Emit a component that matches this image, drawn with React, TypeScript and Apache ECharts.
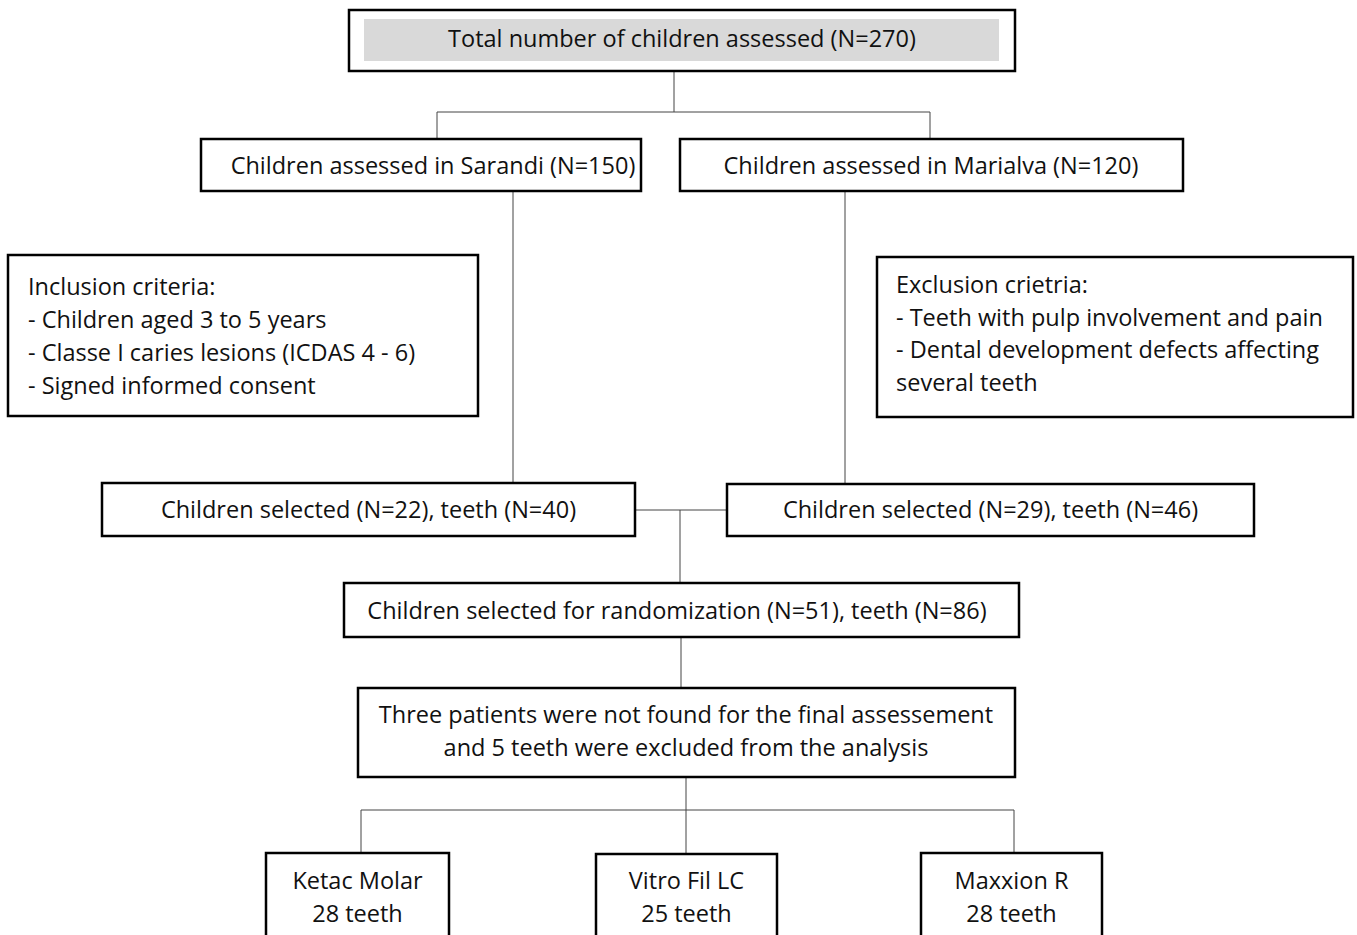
import React, { useEffect, useRef } from "react";
import * as echarts from "echarts";

// ---- content ----
const titleLabel = ["Total number of children assessed (N=270)"];
const siteLabels = ["Children assessed in Sarandi (N=150)", "Children assessed in Marialva (N=120)"];
const inclusionLines = [
  "Inclusion criteria:",
  "- Children aged 3 to 5 years",
  "- Classe I caries lesions (ICDAS 4 - 6)",
  "- Signed informed consent",
];
const exclusionLines = [
  "Exclusion crietria:",
  "- Teeth with pulp involvement and pain",
  "- Dental development defects affecting",
  "several teeth",
];
const selectedLabels = ["Children selected (N=22), teeth (N=40)", "Children selected (N=29), teeth (N=46)"];
const randomLabel = ["Children selected for randomization (N=51), teeth (N=86)"];
const lossLines = [
  "Three patients were not found for the final assessement",
  "and 5 teeth were excluded from the analysis",
];
const groupNames = ["Ketac Molar", "Vitro Fil LC", "Maxxion R"];
const groupTeeth = [28, 25, 28];

// ---- layout ----
const FONT = "23.5px 'Open Sans', sans-serif";
const BOX_LW = 2.5;
const LINE_COLOR = "#444";

type Box = { x: number; y: number; w: number; h: number; tx?: number };

const boxRect = (b: Box) => ({
  type: "rect",
  shape: { x: b.x, y: b.y, width: b.w, height: b.h },
  style: { fill: "#fff", stroke: "#000", lineWidth: BOX_LW },
});

const centerText = (text: string, x: number, y: number) => ({
  type: "text",
  style: { text, x, y, font: FONT, fill: "#111", textAlign: "center", textVerticalAlign: "middle" },
});
const leftText = (text: string, x: number, y: number) => ({
  type: "text",
  style: { text, x, y, font: FONT, fill: "#111", textAlign: "left", textVerticalAlign: "middle" },
});
const seg = (x1: number, y1: number, x2: number, y2: number) => ({
  type: "line",
  shape: { x1, y1, x2, y2 },
  style: { stroke: LINE_COLOR, lineWidth: 1 },
});

export default function App() {
  const ref = useRef<HTMLDivElement>(null);
  useEffect(() => {
    document.body.style.margin = "0";
    const chart = echarts.init(ref.current!, null, { renderer: "svg" });
    const els: any[] = [];

    // connectors
    els.push(seg(674, 71, 674, 112), seg(437, 112, 930, 112), seg(437, 112, 437, 139), seg(930, 112, 930, 139));
    els.push(seg(513, 191, 513, 484), seg(845, 191, 845, 484));
    els.push(seg(635, 510, 727, 510), seg(680, 510, 680, 583));
    els.push(seg(681, 637, 681, 688));
    els.push(seg(686, 777, 686, 853), seg(361, 810, 1014, 810), seg(361, 810, 361, 853), seg(1014, 810, 1014, 853));

    // title
    els.push(boxRect({ x: 349, y: 10, w: 666, h: 61 }));
    els.push({ type: "rect", shape: { x: 364, y: 19, width: 635, height: 42 }, style: { fill: "#d9d9d9" } });
    els.push(centerText(titleLabel[0], 682, 38));

    // sites
    const sites: Box[] = [
      { x: 201, y: 139, w: 440, h: 52, tx: 433 },
      { x: 680, y: 139, w: 503, h: 52, tx: 931 },
    ];
    sites.forEach((b, i) => {
      els.push(boxRect(b));
      els.push(centerText(siteLabels[i], b.tx!, 165));
    });

    // criteria
    els.push(boxRect({ x: 8, y: 255, w: 470, h: 161 }));
    inclusionLines.forEach((t, i) => els.push(leftText(t, 28, 286 + i * 33)));
    els.push(boxRect({ x: 877, y: 257, w: 476, h: 160 }));
    exclusionLines.forEach((t, i) => els.push(leftText(t, 896, 284 + i * 32.5)));

    // selected
    const sel: Box[] = [
      { x: 102, y: 483, w: 533, h: 53 },
      { x: 727, y: 484, w: 527, h: 52 },
    ];
    sel.forEach((b, i) => {
      els.push(boxRect(b));
      els.push(centerText(selectedLabels[i], b.x + b.w / 2, 509));
    });

    // randomization
    els.push(boxRect({ x: 344, y: 583, w: 675, h: 54 }));
    els.push(centerText(randomLabel[0], 677, 610));

    // losses
    els.push(boxRect({ x: 358, y: 688, w: 657, h: 89 }));
    lossLines.forEach((t, i) => els.push(centerText(t, 686, 714 + i * 33)));

    // groups
    const groups: Box[] = [
      { x: 266, y: 853, w: 183, h: 120 },
      { x: 596, y: 854, w: 181, h: 120 },
      { x: 921, y: 853, w: 181, h: 120 },
    ];
    groups.forEach((b, i) => {
      els.push(boxRect(b));
      els.push(centerText(groupNames[i], b.x + b.w / 2, 880));
      els.push(centerText(`${groupTeeth[i]} teeth`, b.x + b.w / 2, 913));
    });

    chart.setOption({ animation: false, backgroundColor: "#fff", graphic: { elements: els } });
    return () => chart.dispose();
  }, []);
  return <div ref={ref} style={{ position: "fixed", left: 0, top: 0, width: 1357, height: 935 }} />;
}
